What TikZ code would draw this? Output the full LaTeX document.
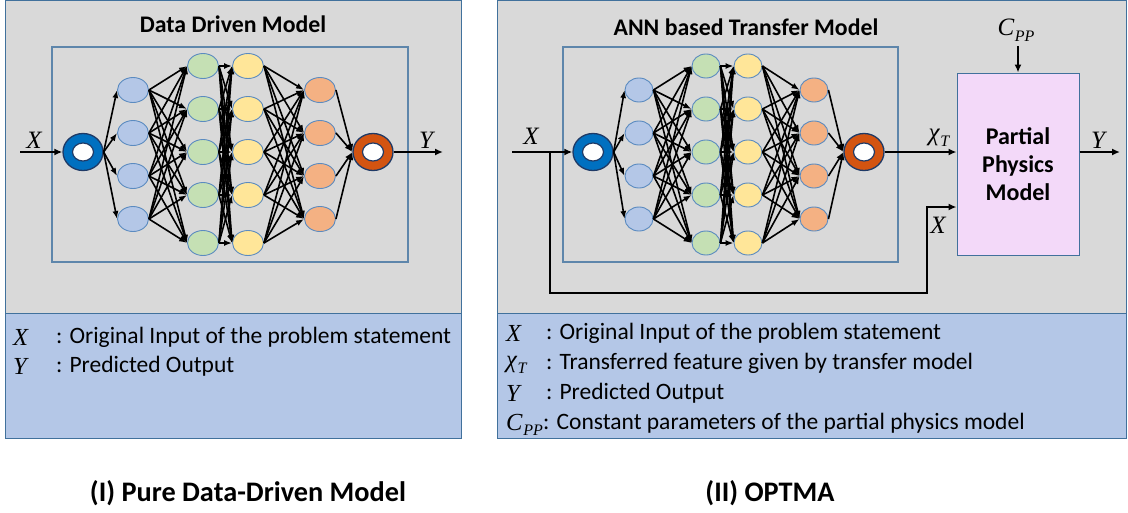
\documentclass[tikz,border=0pt]{standalone}
\usepackage{fontspec}
\setmainfont{Carlito}
\newfontfamily\mserif{Liberation Serif}
\usetikzlibrary{arrows.meta,shapes.geometric}

\newcommand{\mv}[1]{{\mserif\itshape #1}}
\newcommand{\mvsub}[2]{{\mserif\itshape #1\kern0.03em\raisebox{-0.22em}{\fontsize{16}{16}\selectfont #2}}}

\definecolor{panelgray}{HTML}{D9D9D9}
\definecolor{panelline}{HTML}{41719C}
\definecolor{legblue}{HTML}{B4C7E7}
\definecolor{nblue}{HTML}{B4C7E7}
\definecolor{ngreen}{HTML}{C5E0B4}
\definecolor{nyellow}{HTML}{FFE699}
\definecolor{norange}{HTML}{F4B183}
\definecolor{nborder}{HTML}{5B8BC0}
\definecolor{ringblue}{HTML}{0070C0}
\definecolor{ringorange}{HTML}{D35411}
\definecolor{ringedge}{HTML}{1F3A66}
\definecolor{ppfill}{HTML}{F3D9F9}

\tikzset{
  panel/.style={draw=panelline, line width=1pt},
  innerbox/.style={draw=panelline!85, line width=1.2pt},
  neuron/.style={ellipse, draw=nborder, line width=0.9pt, minimum width=31pt, minimum height=25pt, inner sep=0pt},
  ringnode/.style={ellipse, draw=ringedge, line width=1.3pt, minimum width=40pt, minimum height=37pt, inner sep=0pt},
  hole/.style={ellipse, draw=ringedge, fill=white, line width=1.2pt, minimum width=21pt, minimum height=18pt, inner sep=0pt},
  edge/.style={line width=1.6pt, -{Latex[length=8pt,width=6pt]}},
  bigarrow/.style={line width=2.3pt, -{Latex[length=8pt,width=7pt]}},
  lbl/.style={font=\fontsize{25}{28}\selectfont, inner sep=0pt},
  title/.style={font=\fontsize{23.8}{28}\selectfont\bfseries, inner sep=0pt},
  caption/.style={font=\fontsize{28.3}{32}\selectfont\bfseries, inner sep=0pt},
  legtxt/.style={font=\fontsize{23.5}{26}\selectfont, inner sep=0pt, anchor=west},
  legsym/.style={font=\fontsize{24.5}{26}\selectfont, inner sep=0pt, anchor=west},
  ppbox/.style={draw=panelline, line width=1pt, fill=ppfill, minimum width=122pt, minimum height=182pt, align=center, font=\fontsize{24}{28}\selectfont\bfseries}
}

\newcommand{\annnet}[7]{%
  \node[ringnode,fill=ringblue] (#1in) at (#2,152) {};
  \node[hole] (#1inh) at (#2,152) {};
  \node[ringnode,fill=ringorange] (#1out) at (#7,152) {};
  \node[hole] (#1outh) at (#7,152) {};
  \foreach \yy [count=\i] in {90,133,176,219} {
    \node[neuron,fill=nblue] (#1a\i) at (#3,\yy) {};
    \node[neuron,fill=norange] (#1d\i) at (#6,\yy) {};
  }
  \foreach \yy [count=\i] in {66,109,152,195,243} {
    \node[neuron,fill=ngreen] (#1b\i) at (#4,\yy) {};
    \node[neuron,fill=nyellow] (#1c\i) at (#5,\yy) {};
  }
  \foreach \i in {1,...,4} {
    \draw[edge] (#1in.east) -- (#1a\i.west);
    \draw[edge] (#1d\i.east) -- (#1out.west);
    \foreach \j in {1,...,5} {
      \draw[edge] (#1a\i.east) -- (#1b\j.west);
      \draw[edge] (#1c\j.east) -- (#1d\i.west);
    }
  }
  \foreach \i in {1,...,5} {
    \foreach \j in {1,...,5} {
      \draw[edge] (#1b\i.east) -- (#1c\j.west);
    }
  }
}

\begin{document}
\begin{tikzpicture}[x=1pt,y=-1pt]
\useasboundingbox (0,0) rectangle (1128,512);
\fill[white] (0,0) rectangle (1128,512);

% ---------- Left panel ----------
\fill[panelgray] (5.5,0.5) rectangle (461,313);
\fill[legblue] (5.5,313) rectangle (461,438.5);
\draw[panel] (5.5,0.5) rectangle (461,438.5);
\draw[panel] (5.5,313) -- (461,313);
\draw[innerbox] (52,47) rectangle (408,262);
\node[title] (ltitle) at (233,24) {Data Driven Model};

\annnet{L}{83}{133}{203}{248}{320}{373}

\coordinate (LXs) at (20,152);
\coordinate (LYe) at (443,152);
\draw[bigarrow] (LXs) -- (Lin.west);
\draw[bigarrow] (Lout.east) -- (LYe);
\node[lbl] (LXl) at (34,140) {\mv{X}};
\node[lbl] (LYl) at (426,140) {\mv{Y}};

\node[legsym] (lk1) at (13,337) {\mv{X}};
\node[legtxt] (lv1) at (56,337) {: Original Input of the problem statement};
\node[legsym] (lk2) at (13,366) {\mv{Y}};
\node[legtxt] (lv2) at (56,366) {: Predicted Output};

% ---------- Right panel ----------
\fill[panelgray] (497,0.5) rectangle (1126,313);
\fill[legblue] (497,313) rectangle (1126,438.5);
\draw[panel] (497,0.5) rectangle (1126,438.5);
\draw[panel] (497,313) -- (1126,313);
\draw[innerbox] (563,47) rectangle (898,262);
\node[title] (rtitle) at (746,27) {ANN based Transfer Model};

\begin{scope}[neuron/.append style={minimum width=28pt, minimum height=24pt}]
\annnet{R}{593}{639}{706}{748}{814}{864}
\end{scope}

\node[ppbox] (pp) at (1018,164) {Partial\\Physics\\Model};

\coordinate (RXs) at (512,152);
\coordinate (Rj) at (550,152);
\coordinate (Rc1) at (550,293);
\coordinate (Rc2) at (927,293);
\coordinate (Rc3) at (927,207);
\coordinate (RYe) at (1120,152);
\draw[bigarrow] (RXs) -- (Rin.west);
\draw[bigarrow] (Rj) -- (Rc1) -- (Rc2) -- (Rc3) -- (Rc3 -| pp.west);
\draw[bigarrow] (Rout.east) -- (Rout.east -| pp.west);
\draw[bigarrow] (pp.east |- RYe) -- (RYe);
\node[lbl] (RXl) at (531,136) {\mv{X}};
\node[lbl] (RXl2) at (938,225) {\mv{X}};
\node[lbl] (chiT) at (939,138) {\mvsub{χ}{T}};
\node[lbl] (RYl) at (1098,140) {\mv{Y}};
\node[lbl] (cpp) at (1016,30) {\mvsub{C}{PP}};
\coordinate (cppa) at (1018,46);
\draw[bigarrow] (cppa) -- (cppa |- pp.north);

\node[legsym] (rk1) at (506,333) {\mv{X}};
\node[legtxt] (rv1) at (546,333) {: Original Input of the problem statement};
\node[legsym] (rk2) at (506,365) {\mvsub{χ}{T}};
\node[legtxt] (rv2) at (546,363) {: Transferred feature given by transfer model};
\node[legsym] (rk3) at (506,393) {\mv{Y}};
\node[legtxt] (rv3) at (546,393) {: Predicted Output};
\node[legsym] (rk4) at (506,425) {\mvsub{C}{PP}};
\node[legtxt, anchor=west] (rv4) at (rk4.east |- 0,423) {: Constant parameters of the partial physics model};

% ---------- Captions ----------
\node[caption] (cap1) at (248,493) {(I) Pure Data-Driven Model};
\node[caption] (cap2) at (770,493) {(II) OPTMA};
\end{tikzpicture}
\end{document}
